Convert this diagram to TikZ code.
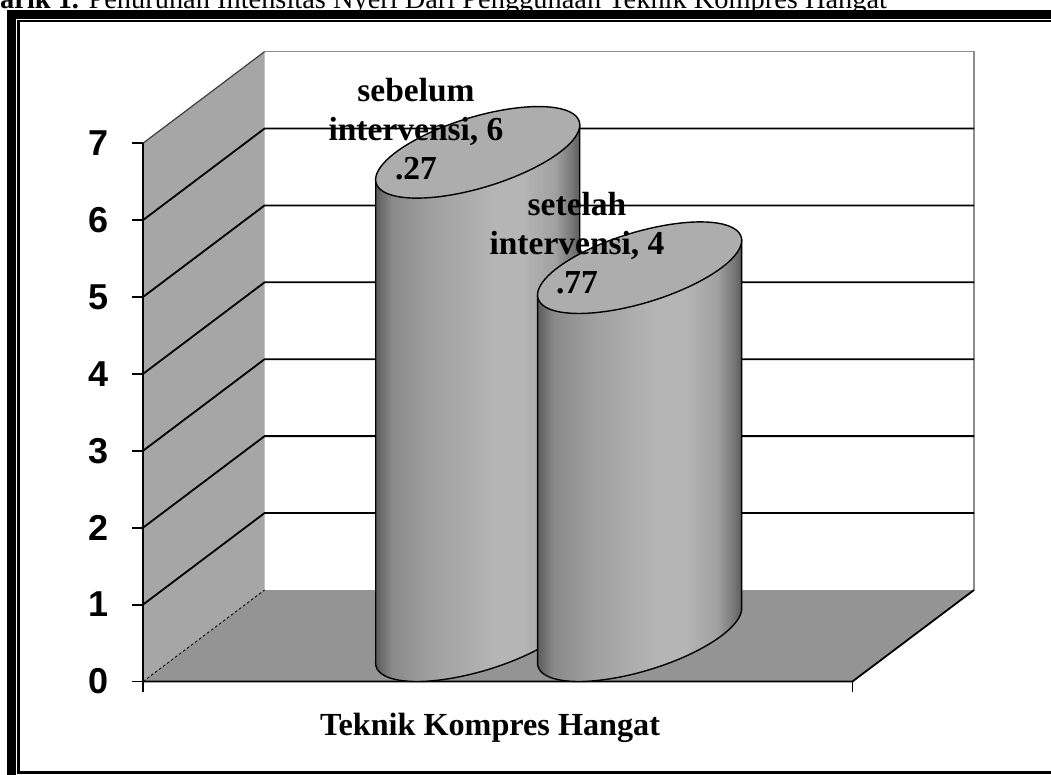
\documentclass[tikz,border=0pt]{standalone}
\usepackage{fontspec}
\setmainfont{Liberation Serif}
\newfontfamily\axisfont{Liberation Sans}

\definecolor{wallgray}{gray}{0.65}
\definecolor{floorgray}{gray}{0.58}
\definecolor{capgray}{gray}{0.68}
\definecolor{edgegray}{gray}{0.55}
\definecolor{cylA}{gray}{0.36}
\definecolor{cylB}{gray}{0.54}
\definecolor{cylC}{gray}{0.63}
\definecolor{cylD}{gray}{0.71}
\definecolor{cylE}{gray}{0.47}
% tikz maps the path onto 25bp..75bp of the shading
\pgfdeclarehorizontalshading{cylside}{100bp}{color(0bp)=(cylA); color(25bp)=(cylA);
  color(29bp)=(cylB); color(39bp)=(cylC); color(54bp)=(cylD); color(61bp)=(cylD);
  color(69bp)=(cylC); color(73bp)=(cylE); color(75bp)=(cylA); color(100bp)=(cylA)}

\begin{document}
\begin{tikzpicture}[x=1pt,y=-1pt,
    grid/.style={line width=1.8pt},
    rim/.style={line width=1.4pt,draw=black},
    ticklbl/.style={anchor=east,inner sep=0pt,font=\axisfont\bfseries\fontsize{36}{40}\selectfont},
    barlbl/.style={anchor=base,align=center,inner sep=0pt,font=\bfseries\fontsize{33.5}{38.8}\selectfont}]
  \useasboundingbox (0,0) rectangle (1051,774);

  % caption, cut by the page edge
  \node[anchor=base west,inner sep=0pt,font=\fontsize{28.4}{30}\selectfont] (caption) at (0,8)
    {\textbf{arik 1.} Penurunan Intensitas Nyeri Dari Penggunaan Teknik Kompres Hangat};

  % double frame
  \draw[line width=9pt] (11.2,800) -- (11.2,14.2) -- (1080,14.2);
  \draw[line width=2.6pt] (1080,772.4) -- (18.5,772.4) -- (18.5,21) -- (1080,21);

  % walls and floor
  \fill[white] (264.6,51.6) rectangle (974,590);
  \fill[wallgray] (143,681.5) -- (143,143.2) -- (264.6,51.6) -- (264.6,590) -- cycle;
  \fill[floorgray] (143,681.5) -- (264.6,590) -- (974,590) -- (852.4,681.5) -- cycle;
  \draw[edgegray,line width=1.4pt] (264.6,51.6) -- (974,51.6) -- (974,590);
  \draw[black!75,line width=1.2pt] (143,143.2) -- (264.6,51.6);
  \draw[densely dashed,line width=0.8pt] (143,681.5) -- (264.6,590);
  \foreach \v in {1,...,6}
    \draw[grid] (143,{681.5-76.9*\v}) -- (264.6,{589.9-76.9*\v}) -- (974,{589.9-76.9*\v});

  % axes
  \draw[grid] (143,691.5) -- (143,143.2);
  \draw[grid] (143,681.5) -- (852.4,681.5) -- (974,590);
  \draw[grid] (852.4,691.5) -- (852.4,681.5);
  \foreach \v in {0,...,7}{
    \draw[grid] (132,{681.5-76.9*\v}) -- (143,{681.5-76.9*\v});
    \node[ticklbl] (t\v) at (109,{681.5-76.9*\v}) {\v};
  }

  % cylinders
  \foreach \cx/\val in {477.7/6.27, 639.6/4.77}{
    \pgfmathsetmacro\yt{634.5-76.9*\val}
    \shadedraw[shading=cylside,rim] ({\cx-102},{\yt+27.3}) -- ({\cx-102},663)
      -- plot[domain=216.6:396.6,samples=60] ({\cx+82*cos(\x)+60.8*sin(\x)},{635.7-45.8*sin(\x)})
      -- ({\cx+102},{\yt-27.3}) -- cycle;
    \filldraw[fill=capgray,rim] plot[domain=0:360,samples=90]
      ({\cx+82*cos(\x)+60.8*sin(\x)},{\yt-45.8*sin(\x)}) -- cycle;
  }

  % labels
  \node[barlbl] (lbl_seb) at (416,179.3) {sebelum\\intervensi, 6\\.27};
  \node[barlbl] (lbl_set) at (577,293.3) {setelah\\intervensi, 4\\.77};
  \node[anchor=base,inner sep=0pt,font=\bfseries\fontsize{32.2}{36}\selectfont] (xtitle) at (490,735)
    {Teknik Kompres Hangat};
\end{tikzpicture}
\end{document}
